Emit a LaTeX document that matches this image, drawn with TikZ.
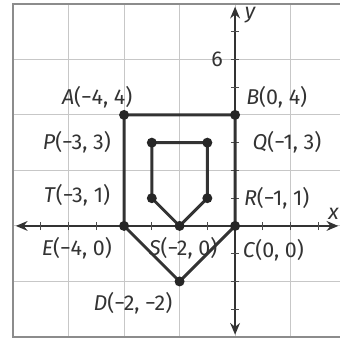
\documentclass[tikz,border=0pt]{standalone}
\usepackage{fontspec}
\setmainfont{Fira Sans}
\usepackage{tikz}
\usetikzlibrary{arrows.meta, positioning}

\begin{document}
\begin{tikzpicture}[
    x=0.5cm, y=0.5cm,
    gridline/.style={draw=black!22, line width=0.5pt},
    frame/.style={draw=black!45, line width=0.8pt},
    axis/.style={{Stealth[length=6pt,width=5pt]}-{Stealth[length=6pt,width=5pt]}, line width=1.2pt, draw=black!80},
    edge/.style={line width=1.5pt, draw=black!80, line join=round},
    pt/.style={circle, inner sep=0pt, minimum size=0pt},
    lbl/.style={font=\fontsize{11}{13}\selectfont, text=black!80, inner sep=1pt}
]
  \useasboundingbox (-8.47,-4.07) rectangle (3.78,8.14);

  % Grid
  \draw[gridline] (-8,-4) grid (3.78,8);
  \draw[frame] (3.78,8) -- (-8,8) -- (-8,-4) -- (3.78,-4);

  % Axes
  \coordinate (xmin) at (-7.9,0);
  \coordinate (xmax) at (3.72,0);
  \coordinate (ymin) at (0,-3.92);
  \coordinate (ymax) at (0,7.9);
  \draw[axis] (xmin) -- (xmax);
  \draw[axis] (ymin) -- (ymax);
  \foreach \t in {-7,...,3}
    \draw[black!70, line width=0.6pt] (\t,-0.15) -- (\t,0.15);
  \foreach \t in {-3,...,7}
    \draw[black!70, line width=0.6pt] (-0.15,\t) -- (0.15,\t);
  \node[lbl] (xlab) at (3.55,0.45) {\textit{x}};
  \node[lbl] (ylab) at (0.55,7.6) {\textit{y}};
  \node[lbl] (six) at (-0.65,6) {6};

  % Points
  \node[pt] (A) at (-4,4) {};
  \node[pt] (B) at (0,4) {};
  \node[pt] (C) at (0,0) {};
  \node[pt] (D) at (-2,-2) {};
  \node[pt] (E) at (-4,0) {};
  \node[pt] (P) at (-3,3) {};
  \node[pt] (Q) at (-1,3) {};
  \node[pt] (R) at (-1,1) {};
  \node[pt] (S) at (-2,0) {};
  \node[pt] (T) at (-3,1) {};

  % Polygons
  \draw[edge] (A.center) -- (B.center) -- (C.center) -- (D.center) -- (E.center) -- cycle;
  \draw[edge] (P.center) -- (Q.center) -- (R.center) -- (S.center) -- (T.center) -- cycle;
  \foreach \p in {A,B,C,D,E,P,Q,R,S,T}
    \fill[black!85] (\p) circle (0.18);

  % Labels
  \node[lbl] (Alab) at (-4.97,4.65) {\textit{A}(−4, 4)};
  \node[lbl] (Blab) at (1.5,4.65) {\textit{B}(0, 4)};
  \node[lbl] (Plab) at (-5.7,3.0) {\textit{P}(−3, 3)};
  \node[lbl] (Qlab) at (1.87,3.0) {\textit{Q}(−1, 3)};
  \node[lbl] (Tlab) at (-5.7,1.1) {\textit{T}(−3, 1)};
  \node[lbl] (Rlab) at (1.5,1.0) {\textit{R}(−1, 1)};
  \node[lbl] (Elab) at (-5.7,-0.8) {\textit{E}(−4, 0)};
  \node[lbl] (Slab) at (-1.87,-0.8) {\textit{S}(−2, 0)};
  \node[lbl] (Clab) at (1.38,-0.87) {\textit{C}(0, 0)};
  \node[lbl] (Dlab) at (-3.68,-2.8) {\textit{D}(−2, −2)};
\end{tikzpicture}
\end{document}
